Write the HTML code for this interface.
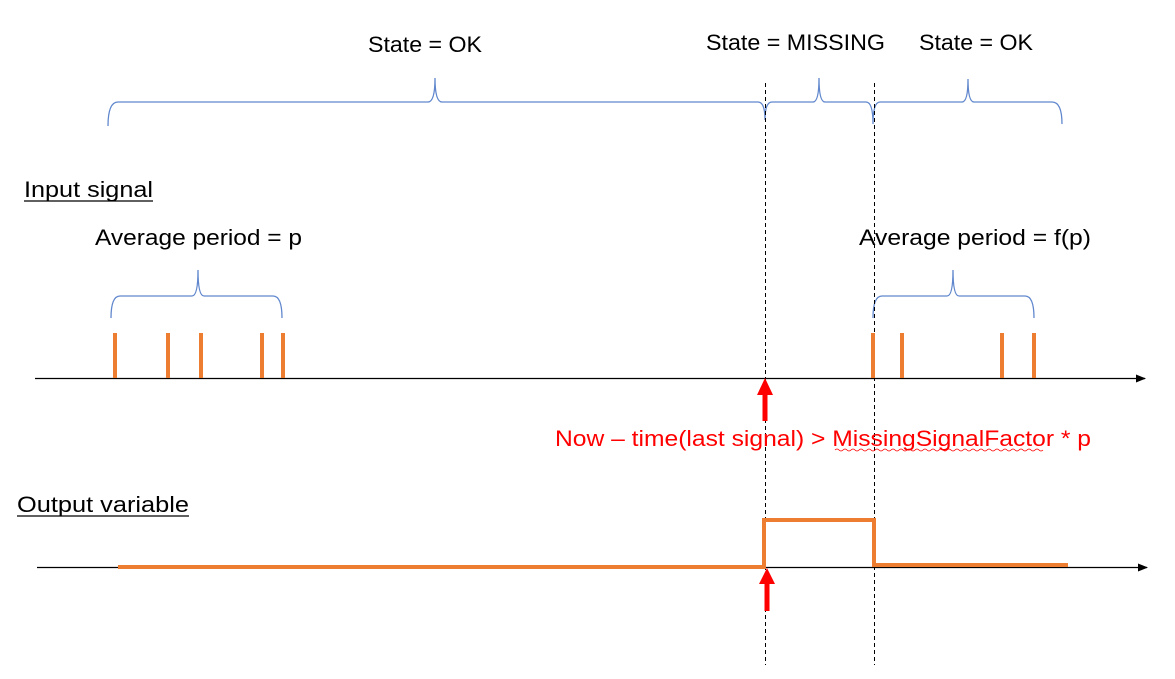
<!DOCTYPE html>
<html><head><meta charset="utf-8"><style>html,body{margin:0;padding:0;background:#fff}svg{display:block}</style></head>
<body>
<svg width="1175" height="679" viewBox="0 0 1175 679" xmlns="http://www.w3.org/2000/svg" font-family="Liberation Sans, sans-serif" font-size="22">
<defs>
<marker id="ah" markerWidth="10" markerHeight="8" refX="9" refY="4" orient="auto" markerUnits="userSpaceOnUse"><path d="M0,0 L10,4 L0,8 z" fill="#000"/></marker>
</defs>
<g fill="none" stroke="#4472c4" stroke-width="1.3" opacity="0.85">
<path d="M108,126 Q108,102 118,102 L428,102 Q435,102 435,78 Q435,102 442,102 L758,102 Q765,102 765,120 Q765,102 772,102 L813,102 Q819,102 819,78 Q819,102 825,102 L866,102 Q873,102 873,124 Q873,102 880,102 L962,102 Q968,102 968,79 Q968,102 974,102 L1052,102 Q1062,102 1062,124"/>
<path d="M111,318 Q111,296 120,296 L192,296 Q198,296 198,270 Q198,296 204,296 L273,296 Q282,296 282,318"/>
<path d="M873,318 Q873,296 882,296 L947,296 Q953,296 953,270 Q953,296 959,296 L1025,296 Q1034,296 1034,318"/>
</g>
<g stroke="#000" stroke-width="1" stroke-dasharray="4,3">
<line x1="765.5" y1="83" x2="765.5" y2="665"/>
<line x1="874.5" y1="83" x2="874.5" y2="665"/>
</g>
<line x1="35" y1="378.5" x2="1145" y2="378.5" stroke="#000" stroke-width="1.3" marker-end="url(#ah)"/>
<line x1="37" y1="567.5" x2="1147" y2="567.5" stroke="#000" stroke-width="1.3" marker-end="url(#ah)"/>
<g stroke="#ed7d31" stroke-width="4">
<line x1="115" y1="333" x2="115" y2="378"/>
<line x1="168" y1="333" x2="168" y2="378"/>
<line x1="201" y1="333" x2="201" y2="378"/>
<line x1="262" y1="333" x2="262" y2="378"/>
<line x1="283" y1="333" x2="283" y2="378"/>
<line x1="873" y1="333" x2="873" y2="378"/>
<line x1="902" y1="333" x2="902" y2="378"/>
<line x1="1002" y1="333" x2="1002" y2="378"/>
<line x1="1034" y1="333" x2="1034" y2="378"/>
</g>
<path d="M118,567 L764,567 L764,520 L874,520 L874,565 L1068,565" fill="none" stroke="#ed7d31" stroke-width="4"/>
<g fill="#ff0000">
<rect x="762.5" y="392" width="5" height="29"/><path d="M757,395 L765,378 L773,395 z"/>
<rect x="764.5" y="581" width="5" height="30"/><path d="M759,584 L767,568 L775,584 z"/>
</g>
<g fill="#000">
<text x="368" y="52" textLength="114" lengthAdjust="spacingAndGlyphs">State = OK</text>
<text x="706" y="50" textLength="179" lengthAdjust="spacingAndGlyphs">State = MISSING</text>
<text x="919" y="50" textLength="114" lengthAdjust="spacingAndGlyphs">State = OK</text>
<text x="24" y="197" textLength="129" lengthAdjust="spacingAndGlyphs">Input signal</text>
<line x1="24" y1="201" x2="153" y2="201" stroke="#000" stroke-width="1.3"/>
<text x="95" y="245" textLength="207" lengthAdjust="spacingAndGlyphs">Average period = p</text>
<text x="859" y="245" textLength="232" lengthAdjust="spacingAndGlyphs">Average period = f(p)</text>
<text x="17" y="512" textLength="172" lengthAdjust="spacingAndGlyphs">Output variable</text>
<line x1="17" y1="516" x2="189" y2="516" stroke="#000" stroke-width="1.3"/>
</g>
<text x="555" y="446" fill="#ff0000" textLength="536" lengthAdjust="spacingAndGlyphs">Now – time(last signal) &gt; MissingSignalFactor * p</text>
<path d="M835,450 q2,-2 4,0 t4,0 t4,0 t4,0 t4,0 t4,0 t4,0 t4,0 t4,0 t4,0 t4,0 t4,0 t4,0 t4,0 t4,0 t4,0 t4,0 t4,0 t4,0 t4,0 t4,0 t4,0 t4,0 t4,0 t4,0 t4,0 t4,0 t4,0 t4,0 t4,0 t4,0 t4,0 t4,0 t4,0 t4,0 t4,0 t4,0 t4,0 t4,0 t4,0 t4,0 t4,0 t4,0 t4,0 t4,0 t4,0 t4,0 t4,0 t4,0 t4,0 t4,0 t4,0" fill="none" stroke="#ff0000" stroke-width="0.8"/>
</svg>
</body></html>
